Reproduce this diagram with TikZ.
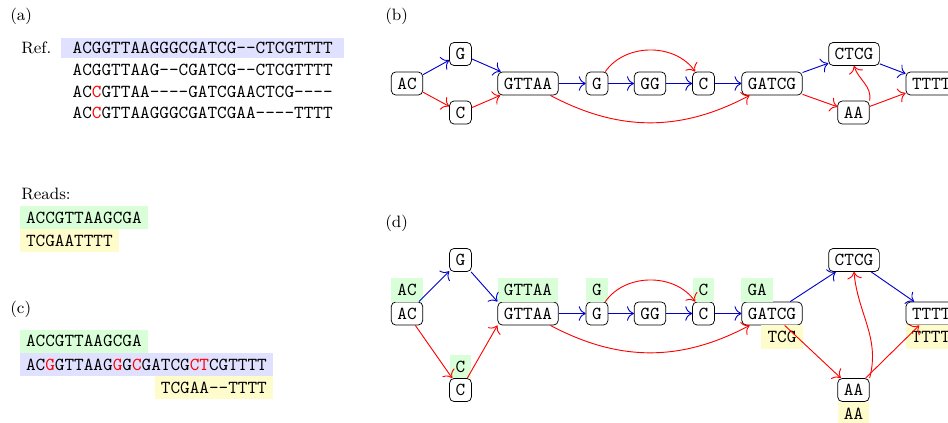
\documentclass[tikz,border=0pt]{standalone}
\usetikzlibrary{arrows.meta}
\begin{document}
\begin{tikzpicture}[x=0.5453pt,y=0.5453pt,
  seq/.style={font=\ttfamily, text height=6.2pt, text depth=0pt, inner xsep=3.33pt, inner ysep=3.2pt, outer sep=0pt},
  refrow/.style={font=\ttfamily, text height=6.2pt, text depth=0pt, inner xsep=6.4pt, inner ysep=2pt, minimum height=11pt, anchor=west, outer sep=0pt},
  gnode/.style={seq, draw=black, rounded corners=2.5pt, outer sep=0.2pt},
  lab/.style={font=\small, anchor=base west, inner sep=0pt},
  gfill/.style={seq, fill=green!15},
  yfill/.style={seq, fill=yellow!20},
  bfill/.style={fill=blue!12},
  bl/.style={-{To[scale=1.4]}, line width=0.5pt, draw=blue!80!black},
  rd/.style={-{To[scale=1.4]}, line width=0.5pt, draw=red}
]
\useasboundingbox (0,0) rectangle (948,-423);

% ---------- (a)
\node[lab] (la) at (10,-21) {(a)};
\node[lab] (ref) at (21,-54) {Ref.};
\node[refrow, bfill] (r1) at (61,-47.8) {ACGGTTAAGGGCGATCG-{}-CTCGTTTT};
\node[refrow] (r2) at (61,-69.6) {ACGGTTAAG-{}-CGATCG-{}-CTCGTTTT};
\node[refrow] (r3) at (61,-91.4) {AC\textcolor{red}{C}GTTAA-{}-{}-{}-GATCGAACTCG-{}-{}-{}-};
\node[refrow] (r4) at (61,-113.2) {AC\textcolor{red}{C}GTTAAGGGCGATCGAA-{}-{}-{}-TTTT};

\node[lab] (reads) at (21,-200) {Reads:};
\node[gfill, anchor=west] (rd1) at (20,-217.5) {ACCGTTAAGCGA};
\node[yfill, anchor=north west] (rd2) at (rd1.south west) {TCGAATTTT};

% ---------- (c)
\node[lab] (lc) at (10,-314) {(c)};
\node[gfill, anchor=west] (c1) at (20,-341.3) {ACCGTTAAGCGA};
\node[seq, bfill, anchor=north west] (c2) at (c1.south west) {AC\textcolor{red}{G}GTTAAG\textcolor{red}{G}G\textcolor{red}{C}GATCG\textcolor{red}{CT}CGTTTT};
\node[yfill, anchor=north east] (c3) at (c2.south east) {TCGAA-{}-TTTT};

% ---------- (b)
\node[lab] (lb) at (385,-21) {(b)};
\node[gnode] (b1) at (407,-83.5) {AC};
\node[gnode] (b2) at (460.5,-54) {G};
\node[gnode] (b3) at (460.5,-112.5) {C};
\node[gnode] (b4) at (528,-83.5) {GTTAA};
\node[gnode] (b5) at (597,-83.5) {G};
\node[gnode] (b6) at (650,-83.5) {GG};
\node[gnode] (b7) at (703.5,-83.5) {C};
\node[gnode] (b8) at (772,-83.5) {GATCG};
\node[gnode] (b9) at (854,-54) {CTCG};
\node[gnode] (b10) at (853.5,-112.5) {AA};
\node[gnode] (b11) at (931.3,-83.5) {TTTT};

\draw[bl] (b1) -- (b2);
\draw[rd] (b1) -- (b3);
\draw[bl] (b2) -- (b4);
\draw[rd] (b3) -- (b4);
\draw[bl] (b4) -- (b5);
\draw[bl] (b5) -- (b6);
\draw[bl] (b6) -- (b7);
\draw[bl] (b7) -- (b8);
\draw[rd] (b5) to[bend left=55] (b7);
\draw[rd] (b4) to[bend right=28] (b8);
\draw[bl] (b8) -- (b9);
\draw[bl] (b9) -- (b11);
\draw[rd] (b8) -- (b10);
\draw[rd] (b10) -- (b11);
\draw[rd] (b10.north east) to[out=80,in=-72] (b9.south);

% ---------- (d)
\node[lab] (ld) at (385,-228) {(d)};
\node[gnode] (d1) at (407,-313.5) {AC};
\node[gnode] (d2) at (460.5,-260) {G};
\node[gnode] (d3) at (460.5,-390) {C};
\node[gnode] (d4) at (528,-313.5) {GTTAA};
\node[gnode] (d5) at (597,-313.5) {G};
\node[gnode] (d6) at (650,-313.5) {GG};
\node[gnode] (d7) at (703.5,-313.5) {C};
\node[gnode] (d8) at (772,-313.5) {GATCG};
\node[gnode] (d9) at (854,-260) {CTCG};
\node[gnode] (d10) at (853.5,-390) {AA};
\node[gnode] (d11) at (931.3,-313.5) {TTTT};

\node[gfill, anchor=south] (l1) at (d1.north) {AC};
\node[gfill, anchor=south] (l4) at (d4.north) {GTTAA};
\node[gfill, anchor=south] (l5) at (d5.north) {G};
\node[gfill, anchor=south] (l7) at (d7.north) {C};
\node[gfill, anchor=south west] (l8) at (d8.north west) {GA};
\node[gfill, anchor=south] (l3) at (d3.north) {C};
\node[yfill, anchor=north east] (l8b) at (d8.south east) {TCG};
\node[yfill, anchor=north] (l10) at (d10.south) {AA};
\node[yfill, anchor=north west] (l11) at (d11.south west) {TTTT};

\draw[bl] (d1) -- (d2);
\draw[rd] (d1) -- (d3);
\draw[bl] (d2) -- (d4.north west);
\draw[rd] (d3) -- (d4.south west);
\draw[bl] (d4) -- (d5);
\draw[bl] (d5) -- (d6);
\draw[bl] (d6) -- (d7);
\draw[bl] (d7) -- (d8);
\draw[rd] (d5) to[bend left=55] (d7);
\draw[rd] (d4) to[bend right=28] (d8);
\draw[bl] (d8) -- (d9);
\draw[bl] (d9) -- (d11);
\draw[rd] (d8) -- (d10);
\draw[rd] (d10) -- (d11);
\draw[rd] (d10.north east) to[out=75,in=-85] (d9.south);
\end{tikzpicture}
\end{document}
